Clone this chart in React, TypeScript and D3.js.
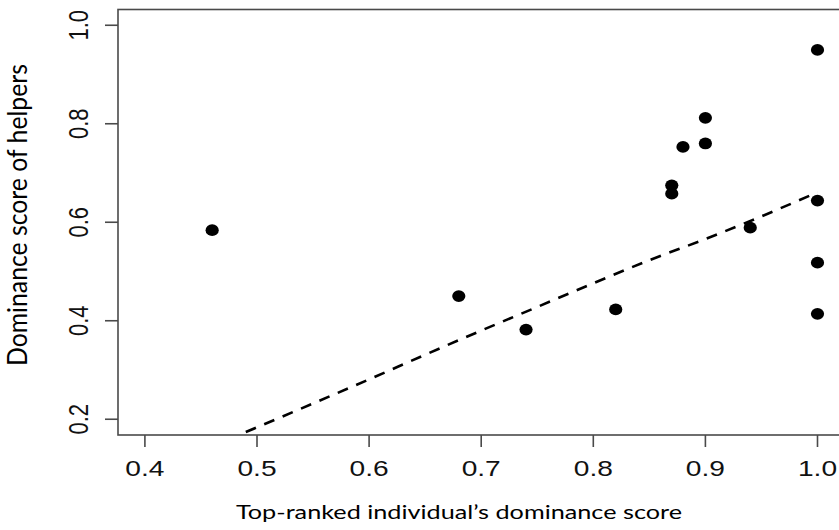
import React from "react";
import * as d3 from "d3";

const xValues = [0.46, 0.68, 0.74, 0.82, 0.87, 0.87, 0.88, 0.9, 0.9, 0.94, 1.0, 1.0, 1.0, 1.0];
const yValues = [0.584, 0.45, 0.382, 0.423, 0.675, 0.658, 0.753, 0.812, 0.76, 0.589, 0.95, 0.644, 0.518, 0.414];

const fitX = [0.49, 0.55, 0.6, 0.65, 0.7, 0.75, 0.8, 0.85, 0.9, 0.95, 1.0];
const fitY = [0.174, 0.232, 0.281, 0.331, 0.38, 0.428, 0.476, 0.523, 0.566, 0.612, 0.661];

const xTicks = [0.4, 0.5, 0.6, 0.7, 0.8, 0.9, 1.0];
const yTicks = [0.2, 0.4, 0.6, 0.8, 1.0];

const xTitle = "Top-ranked individual\u2019s dominance score";
const yTitle = "Dominance score of helpers";

const W = 839;
const H = 530;
const left = 118;
const top = 9.5;
const bottom = 435;
const right = 844.4;

export default function App() {
  const x = d3.scaleLinear().domain([0.376, 1.024]).range([left, right]);
  const y = d3.scaleLinear().domain([0.168, 1.032]).range([bottom, top]);
  const line = d3
    .line<number>()
    .x((_, i) => x(fitX[i]))
    .y((d) => y(d))
    .curve(d3.curveMonotoneX);
  const sx = 1.28;
  const tickFont = "'Liberation Sans', Arial, sans-serif";
  const titleFont = "Lato, 'Open Sans', sans-serif";
  return (
    <svg
      width={W}
      height={H}
      viewBox={`0 0 ${W} ${H}`}
      style={{ position: "absolute", left: 0, top: 0, background: "#fff" }}
    >
      <rect x={0} y={0} width={W} height={H} fill="#fff" />
      <rect
        x={left}
        y={top}
        width={right - left + 10}
        height={bottom - top}
        fill="none"
        stroke="#4a4a4a"
        strokeWidth={1.6}
      />
      {yTicks.map((t) => (
        <g key={"y" + t}>
          <line x1={left} x2={left - 13} y1={y(t)} y2={y(t)} stroke="#4a4a4a" strokeWidth={1.6} />
          <text
            transform={`translate(88,${y(t)}) rotate(-90) scale(1,${sx})`}
            textAnchor="middle"
            fontFamily={tickFont}
            fontSize={22}
            fill="#111"
          >
            {t.toFixed(1)}
          </text>
        </g>
      ))}
      {xTicks.map((t) => (
        <g key={"x" + t}>
          <line x1={x(t)} x2={x(t)} y1={bottom} y2={bottom + 12} stroke="#4a4a4a" strokeWidth={1.6} />
          <text
            transform={`translate(${x(t)},476) scale(${sx},1)`}
            textAnchor="middle"
            fontFamily={tickFont}
            fontSize={22}
            fill="#111"
          >
            {t.toFixed(1)}
          </text>
        </g>
      ))}
      <path
        d={line(fitY) || ""}
        fill="none"
        stroke="#000"
        strokeWidth={2.6}
        strokeDasharray="11 9"
      />
      {xValues.map((v, i) => (
        <ellipse key={"p" + i} cx={x(v)} cy={y(yValues[i])} rx={6.6} ry={5.9} fill="#000" />
      ))}
      <text
        x={236}
        y={519}
        fontFamily={titleFont}
        fontSize={19.5}
        textLength={446}
        lengthAdjust="spacingAndGlyphs"
        fill="#000"
      >
        {xTitle}
      </text>
      <text
        transform={`translate(27,366) rotate(-90)`}
        fontFamily={titleFont}
        fontSize={27}
        textLength={302}
        lengthAdjust="spacingAndGlyphs"
        fill="#000"
      >
        {yTitle}
      </text>
    </svg>
  );
}
